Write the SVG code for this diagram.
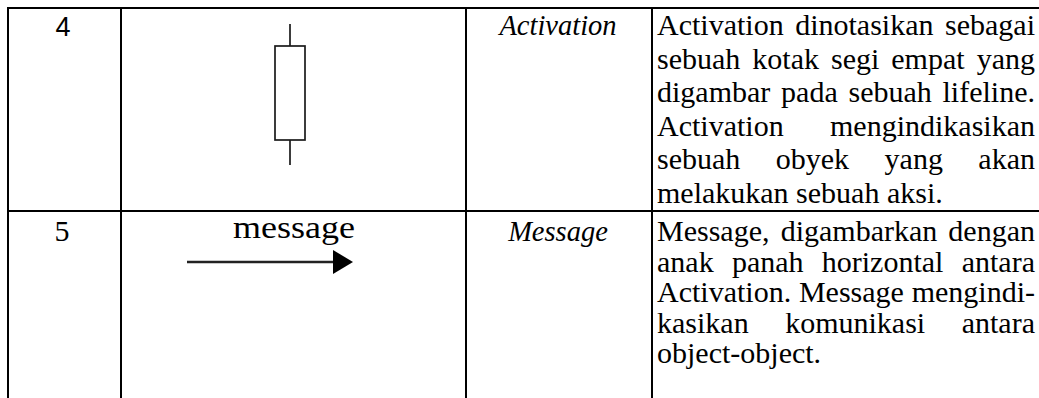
<svg xmlns="http://www.w3.org/2000/svg" width="1039" height="398" viewBox="0 0 1039 398">
  <style>
    .grid { stroke: #000; stroke-width: 2; fill: none; }
    .num4 { font-family: "Liberation Sans", Arial, sans-serif; font-size: 27px; fill: #000; }
    .txt { font-family: "Liberation Serif", "Times New Roman", serif; font-size: 30px; fill: #000; }
    .ital { font-style: italic; font-size: 28.5px; }
    .mid { text-anchor: middle; }
    .end { text-anchor: end; }
    .sym { stroke: #1a1a1a; stroke-width: 1.7; fill: #fff; }
    .msg { stroke: #222; stroke-width: 2.6; fill: none; }
  </style>
  <defs>
    <marker id="head" viewBox="0 0 20 24" refX="0" refY="12" markerUnits="userSpaceOnUse" markerWidth="20" markerHeight="24" orient="auto">
      <path d="M0,0 L20,12 L0,24 Z" fill="#000"/>
    </marker>
  </defs>

  <rect width="1039" height="398" fill="#fff"/>

  <!-- table rules -->
  <g id="table-grid" class="grid">
    <line x1="7" y1="8" x2="1039" y2="8"/>
    <line x1="7" y1="211" x2="1039" y2="211"/>
    <line x1="8" y1="7" x2="8" y2="398"/>
    <line x1="121" y1="7" x2="121" y2="398"/>
    <line x1="466" y1="7" x2="466" y2="398"/>
    <line x1="652" y1="7" x2="652" y2="398"/>
  </g>

  <!-- row 4: activation -->
  <g id="row-4">
    <text class="num4 mid" x="63" y="36">4</text>
    <text class="txt ital mid" x="558" y="35">Activation</text>
    <g class="txt">
      <text y="35"><tspan x="657">Activation</tspan><tspan x="864.3" class="mid">dinotasikan</tspan><tspan x="1035" class="end">sebagai</tspan></text>
      <text y="68.5"><tspan x="657">sebuah</tspan><tspan x="752.3">kotak</tspan><tspan x="831">segi</tspan><tspan x="891.3">empat</tspan><tspan x="1035" class="end">yang</tspan></text>
      <text y="102"><tspan x="657">digambar</tspan><tspan x="781.1">pada</tspan><tspan x="848.5">sebuah</tspan><tspan x="1035" class="end">lifeline.</tspan></text>
      <text y="135.5"><tspan x="657">Activation</tspan><tspan x="1035" class="end">mengindikasikan</tspan></text>
      <text y="169"><tspan x="657">sebuah</tspan><tspan x="775.8">obyek</tspan><tspan x="884.6">yang</tspan><tspan x="1035" class="end">akan</tspan></text>
      <text y="202.5" x="657">melakukan sebuah aksi.</text>
    </g>
  </g>

  <!-- activation box on its lifeline -->
  <g id="activation-symbol">
    <line class="sym" x1="290" y1="24" x2="290" y2="46"/>
    <line class="sym" x1="290" y1="140" x2="290" y2="165"/>
    <rect class="sym" x="275" y="46" width="30" height="94"/>
  </g>

  <!-- row 5: message -->
  <g id="row-5">
    <text class="txt mid" x="62" y="241">5</text>
    <text class="txt ital mid" x="558" y="241">Message</text>
    <g class="txt">
      <text y="241"><tspan x="657">Message,</tspan><tspan x="859" class="mid">digambarkan</tspan><tspan x="1035" class="end">dengan</tspan></text>
      <text y="271.5"><tspan x="657">anak</tspan><tspan x="731.9">panah</tspan><tspan x="821.8">horizontal</tspan><tspan x="1035" class="end">antara</tspan></text>
      <text y="302"><tspan x="657">Activation.</tspan><tspan x="851.4" class="mid">Message</tspan><tspan x="1035" class="end">mengindi-</tspan></text>
      <text y="332.5"><tspan x="657">kasikan</tspan><tspan x="855.2" class="mid">komunikasi</tspan><tspan x="1035" class="end">antara</tspan></text>
      <text y="363" x="657">object-object.</text>
    </g>
  </g>

  <!-- message arrow with its label -->
  <g id="connectors">
    <text class="txt" x="233" y="238" style="font-size:32px" textLength="122" lengthAdjust="spacingAndGlyphs">message</text>
    <line class="msg" x1="187" y1="262" x2="333" y2="262" marker-end="url(#head)"/>
  </g>
</svg>
